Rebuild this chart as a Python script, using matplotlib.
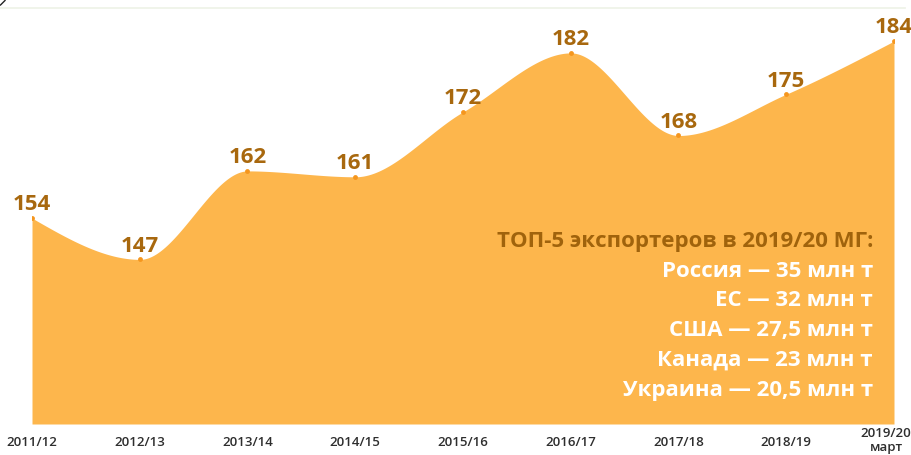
import numpy as np
import matplotlib
matplotlib.use("Agg")
import matplotlib.pyplot as plt
from matplotlib.lines import Line2D
from matplotlib.transforms import ScaledTranslation

plt.rcParams['font.family'] = ['Open Sans', 'DejaVu Sans']

seasons = ["2011/12", "2012/13", "2013/14", "2014/15", "2015/16",
           "2016/17", "2017/18", "2018/19", "2019/20\nмарт"]
values = [154, 147, 162, 161, 172, 182, 168, 175, 184]
box_title = "ТОП-5 экспортеров в 2019/20 МГ:"
box_lines = ["Россия — 35 млн т", "ЕС — 32 млн т", "США — 27,5 млн т",
             "Канада — 23 млн т", "Украина — 20,5 млн т"]

FILL = '#FDB64C'
DOT = '#F5961E'
LABEL = '#A8680E'


def monotone_x(x, y, n=60):
    """d3.curveMonotoneX style interpolation for drawing."""
    x = np.asarray(x, float)
    y = np.asarray(y, float)
    m = len(x)
    h = np.diff(x)
    s = np.diff(y) / h
    t = np.zeros(m)
    for i in range(1, m - 1):
        h0, h1 = h[i - 1], h[i]
        s0, s1 = s[i - 1], s[i]
        p = (s0 * h1 + s1 * h0) / (h0 + h1)
        t[i] = (np.sign(s0) + np.sign(s1)) * min(abs(s0), abs(s1), 0.5 * abs(p))
    t[0] = (3 * s[0] - t[1]) / 2
    t[-1] = (3 * s[-1] - t[-2]) / 2
    xs, ys = [], []
    for i in range(m - 1):
        u = np.linspace(0, 1, n, endpoint=(i == m - 2))
        dx = h[i]
        h00 = 2 * u**3 - 3 * u**2 + 1
        h10 = u**3 - 2 * u**2 + u
        h01 = -2 * u**3 + 3 * u**2
        h11 = u**3 - u**2
        xs.append(x[i] + u * dx)
        ys.append(h00 * y[i] + h10 * dx * t[i] + h01 * y[i + 1] + h11 * dx * t[i + 1])
    return np.concatenate(xs), np.concatenate(ys)


W, H = 912, 455
fig = plt.figure(figsize=(W / 100, H / 100), dpi=100)
ax = fig.add_axes([32 / W, 31 / H, 862 / W, 424 / H])

xi = np.arange(len(values))
ybase = 119.1
xs, ys = monotone_x(xi, values)
ax.fill_between(xs, ybase, ys, color=FILL, linewidth=0)
ax.plot(xi, values, 'o', color=DOT, markersize=3.5, markeredgewidth=0, zorder=3)

for x, v in zip(xi, values):
    ax.annotate(str(v), (x, v), xytext=(0, 5.5), textcoords='offset points',
                ha='center', va='baseline', fontsize=16, fontweight='bold',
                color=LABEL, annotation_clip=False)

ax.set_xlim(0, len(values) - 1)
ax.set_ylim(ybase, ybase + 424 / 5.9)
for sp in ax.spines.values():
    sp.set_visible(False)
ax.set_yticks([])
ax.set_xticks(xi)
ax.set_xticklabels(seasons, fontsize=9.5, fontweight='semibold', color='#2E2E2E',
                   linespacing=1.15)
ax.tick_params(axis='x', length=0, pad=13)
labels = ax.get_xticklabels()
for lab in labels:
    lab.set_va('center')
labels[-1].set_transform(labels[-1].get_transform() +
                         ScaledTranslation(-8 / 100, 1.5 / 100, fig.dpi_scale_trans))

# text block
xr = (873 - 32) / 862
ax.text(xr, (424 - 247) / 424, box_title, transform=ax.transAxes, ha='right',
        va='baseline', fontsize=16, fontweight='bold', color='#A0630C')
for k, line in enumerate(box_lines):
    yb = [277, 306, 336, 366, 396][k]
    ax.text(xr, (424 - yb) / 424, line, transform=ax.transAxes, ha='right',
            va='baseline', fontsize=16, fontweight='bold', color='white')

# faint top rule
fig.add_artist(Line2D([0, 905 / W], [1 - 7.5 / H, 1 - 7.5 / H], color='#EDF2E6',
                      linewidth=1.2, transform=fig.transFigure))
# tiny cropped stroke in the top-left corner
fig.add_artist(Line2D([0.5 / W, 5 / W], [1 - 5 / H, 1 - 0.5 / H], color='#222222',
                      linewidth=1.0, transform=fig.transFigure))

fig.savefig('out.png', dpi=100)
